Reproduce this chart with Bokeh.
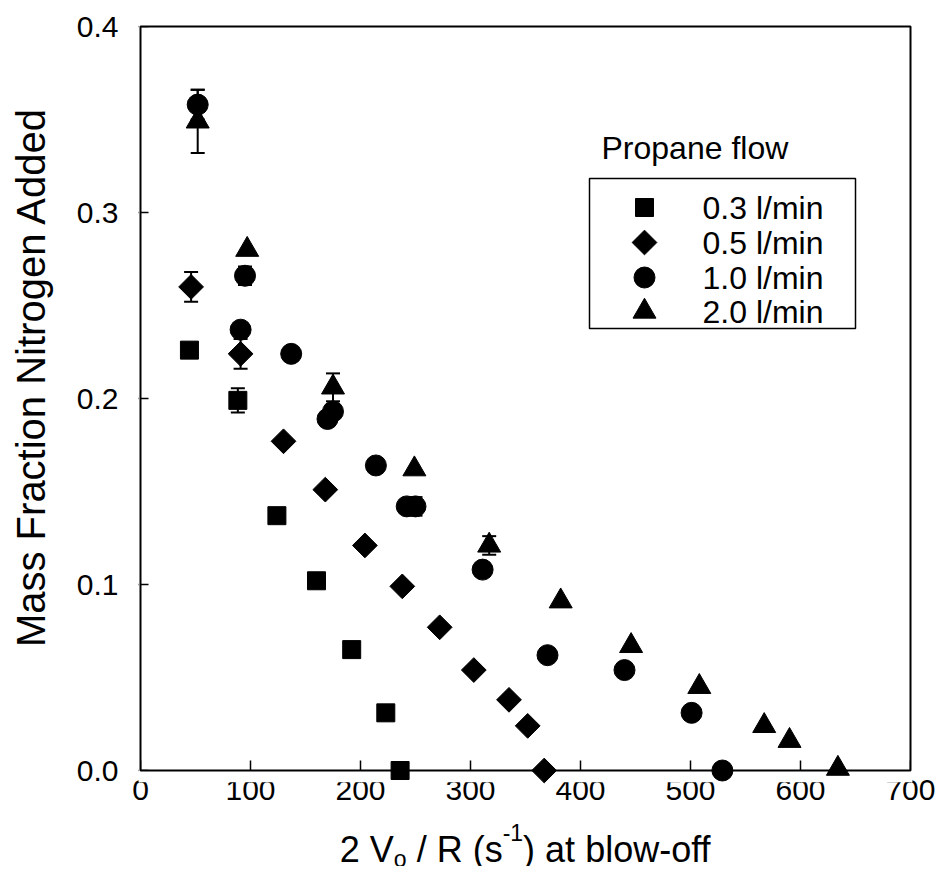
import math
from bokeh.plotting import figure
from bokeh.layouts import row, column
from bokeh.models import (Range1d, FixedTicker, PrintfTickFormatter, ColumnDataSource,
                          Whisker, TeeHead, BoxAnnotation, Label)
from bokeh.embed import file_html
from bokeh.resources import INLINE

# ---------------- data ----------------
sq_x = [44.5, 88.5, 124, 160, 192, 223, 236]                      # 0.3 l/min
sq_y = [0.226, 0.199, 0.137, 0.102, 0.065, 0.031, 0.0]
di_x = [46, 91, 130, 168, 204, 238, 272, 303, 335, 352, 367]      # 0.5 l/min
di_y = [0.260, 0.224, 0.177, 0.151, 0.121, 0.099, 0.077, 0.054, 0.038, 0.024, 0.0]
ci_x = [52, 91, 95, 137, 170, 175, 214, 242, 250, 311, 370, 440, 501, 529]   # 1.0 l/min
ci_y = [0.358, 0.237, 0.266, 0.224, 0.189, 0.193, 0.164, 0.142, 0.142, 0.108,
        0.062, 0.054, 0.031, 0.0]
tr_x = [52, 97, 175, 249, 317, 382, 446, 508, 567, 590, 634]      # 2.0 l/min
tr_y = [0.349, 0.280, 0.206, 0.162, 0.121, 0.091, 0.067, 0.045, 0.024, 0.016, 0.001]

# error bars (x, value, half-width)
err_x = [52, 52, 46, 91, 88.5, 95, 175, 250, 317]
err_y = [0.358, 0.349, 0.260, 0.224, 0.199, 0.266, 0.206, 0.142, 0.121]
err_d = [0.008, 0.017, 0.008, 0.008, 0.0065, 0.005, 0.0075, 0.005, 0.005]

x_ticks = [0, 100, 200, 300, 400, 500, 600, 700]
y_ticks = [0.0, 0.1, 0.2, 0.3, 0.4]
legend_labels = ["0.3 l/min", "0.5 l/min", "1.0 l/min", "2.0 l/min"]
legend_title = "Propane flow"
y_title = "Mass Fraction Nitrogen Added"

X_MAX, Y_MAX = 700, 0.4
FW, FH = 770, 744            # pixel size of the 0..700 x 0..0.4 box
PAD_L, PAD_R, PAD_T, PAD_B = 2, 2, 2, 12
ux = X_MAX / FW              # data units per px
uy = Y_MAX / FH
FONT = "Liberation Sans"

# page layout (pixels): x=0 at 140, y=0.4 at 26, y=0 at 770
TOTAL_W = 935
LEFT_W = 60
MB_LEFT = 140 - LEFT_W - PAD_L
MB_TOP = 26 - PAD_T
MB_BOTTOM = 31
P_W = TOTAL_W - LEFT_W
MB_RIGHT = P_W - MB_LEFT - (FW + PAD_L + PAD_R)
P_H = MB_TOP + FH + PAD_T + PAD_B + MB_BOTTOM
GAP = 13                     # observed extra space between the plot row and the title strip
X_TOP = P_H + GAP            # page y of the title strip top
X_H = 879 - X_TOP

p = figure(frame_width=FW + PAD_L + PAD_R, frame_height=FH + PAD_T + PAD_B,
           x_range=Range1d(-PAD_L * ux, X_MAX + PAD_R * ux),
           y_range=Range1d(-PAD_B * uy, Y_MAX + PAD_T * uy),
           output_backend="svg", toolbar_location=None,
           min_border_left=MB_LEFT, min_border_right=MB_RIGHT,
           min_border_top=MB_TOP, min_border_bottom=MB_BOTTOM)
p.outline_line_color = None
p.grid.visible = False
p.background_fill_color = "white"
p.border_fill_color = "white"

# axes
p.xaxis.ticker = FixedTicker(ticks=x_ticks)
p.yaxis.ticker = FixedTicker(ticks=y_ticks)
p.yaxis.formatter = PrintfTickFormatter(format="%.1f")
p.axis.axis_line_color = None
p.axis.minor_tick_line_color = None
p.axis.major_tick_out = 0
p.xaxis.major_tick_in = PAD_B + 10
p.yaxis.major_tick_in = PAD_L + 8
p.axis.major_tick_line_width = 1.5
p.axis.major_tick_line_color = "black"
p.axis.major_label_text_font = FONT
p.axis.major_label_text_font_size = "30px"
p.axis.major_label_text_color = "black"
p.xaxis.major_label_standoff = -3
p.yaxis.major_label_standoff = 20

# white strips between the box and the frame edges (hide tick stubs)
for kw in (dict(top=0), dict(right=0), dict(left=X_MAX), dict(bottom=Y_MAX)):
    p.add_layout(BoxAnnotation(fill_color="white", fill_alpha=1.0, line_color=None, **kw))
# frame box
p.add_layout(BoxAnnotation(left=0, right=X_MAX, bottom=0, top=Y_MAX,
                           fill_color=None, line_color="black", line_alpha=1.0, line_width=2))

# error bars
esrc = ColumnDataSource(dict(base=err_x,
                             upper=[v + d for v, d in zip(err_y, err_d)],
                             lower=[v - d for v, d in zip(err_y, err_d)]))
p.add_layout(Whisker(source=esrc, base="base", upper="upper", lower="lower",
                     dimension="height", line_width=2, line_color="black",
                     upper_head=TeeHead(size=14, line_width=2, line_color="black"),
                     lower_head=TeeHead(size=14, line_width=2, line_color="black")))

# data markers
p.scatter(sq_x, sq_y, marker="square", size=18, color="black", level="overlay")
p.scatter(di_x, di_y, marker="square", angle=math.pi / 4, size=17.5, color="black", level="overlay")
p.scatter(ci_x, ci_y, marker="circle", size=21, color="black", level="overlay")
p.scatter(tr_x, tr_y, marker="triangle", size=23, color="black", level="overlay")

# ---------------- legend (drawn by hand) ----------------
def dx(px):   # px to the right of x=0
    return px * ux

def dy(px):   # px above y=0
    return px * uy

leg_left, leg_right, leg_top, leg_bottom = 589, 855, 178, 328
rows = [207, 242, 277, 311]
p.add_layout(BoxAnnotation(left=dx(leg_left - 140), right=dx(leg_right - 140),
                           top=dy(770 - leg_top), bottom=dy(770 - leg_bottom),
                           fill_color="white", fill_alpha=1.0,
                           line_color="black", line_alpha=1.0, line_width=1.5))
lsrc = ColumnDataSource(dict(
    x=[dx(644 - 140)] * 4,
    y=[dy(770 - r) for r in rows],
    marker=["square", "square", "circle", "triangle"],
    angle=[0, math.pi / 4, 0, 0],
    size=[18, 17.5, 21, 23]))
p.scatter(x="x", y="y", marker="marker", angle="angle", size="size",
          color="black", source=lsrc, level="overlay")
for lab, r in zip(legend_labels, rows):
    p.add_layout(Label(x=dx(702 - 140), y=dy(770 - r), text=lab, text_font=FONT,
                       text_font_size="32px", text_baseline="middle", text_color="black"))
p.add_layout(Label(x=dx(601 - 140), y=dy(770 - 147), text=legend_title, text_font=FONT,
                   text_font_size="32px", text_baseline="alphabetic", text_color="black"))

# ---------------- y-axis title (strip on the left) ----------------
py = figure(width=LEFT_W, height=P_H, x_range=Range1d(0, LEFT_W), y_range=Range1d(0, P_H),
            x_axis_type=None, y_axis_type=None, output_backend="svg", title=None,
            toolbar_location=None, min_border=0)
py.outline_line_color = None
py.grid.visible = False
py.add_layout(Label(x=30, y=P_H - 378, angle=math.pi / 2,
                    text=y_title, text_font=FONT, text_font_size="40px",
                    text_align="center", text_baseline="middle", text_color="black"))

# ---------------- x-axis title (strip below) ----------------
pxt = figure(width=TOTAL_W, height=X_H, x_range=Range1d(0, TOTAL_W), y_range=Range1d(0, X_H),
             x_axis_type=None, y_axis_type=None, output_backend="svg", title=None,
             toolbar_location=None, min_border=0)
pxt.outline_line_color = None
pxt.grid.visible = False

W = {'2': 556, ' ': 278, 'V': 667, 'o': 556, '/': 278, 'R': 722, '(': 333, 's': 500,
     '-': 333, '1': 556, ')': 333, 'a': 556, 't': 278, 'b': 556, 'l': 222, 'w': 722, 'f': 278}
TF = 36
# (text, font px, baseline shift px, leading gap in spaces)
pieces = [("2 V", TF, 0, 0), ("o", 23, -9, 0), ("/ R (s", TF, 0, 1), ("-1", 23, 17, 0),
          (") at blow-off", TF, 0, 0)]
gaps = [g * W[' '] / 1000 * TF for _, _, _, g in pieces]
widths = [sum(W[c] for c in t) / 1000 * fs for t, fs, _, _ in pieces]
cur = 525 - (sum(widths) + sum(gaps)) / 2
BASE = X_H - (862 - X_TOP)
for (t, fs, sh, _), w, g in zip(pieces, widths, gaps):
    cur += g
    pxt.add_layout(Label(x=cur, y=BASE + sh, text=t,
                         text_font=FONT, text_font_size=f"{fs}px", text_align="left",
                         text_baseline="alphabetic", text_color="black"))
    cur += w

layout = column(row(py, p), pxt)
open("out.html", "w").write(file_html(layout, INLINE))
